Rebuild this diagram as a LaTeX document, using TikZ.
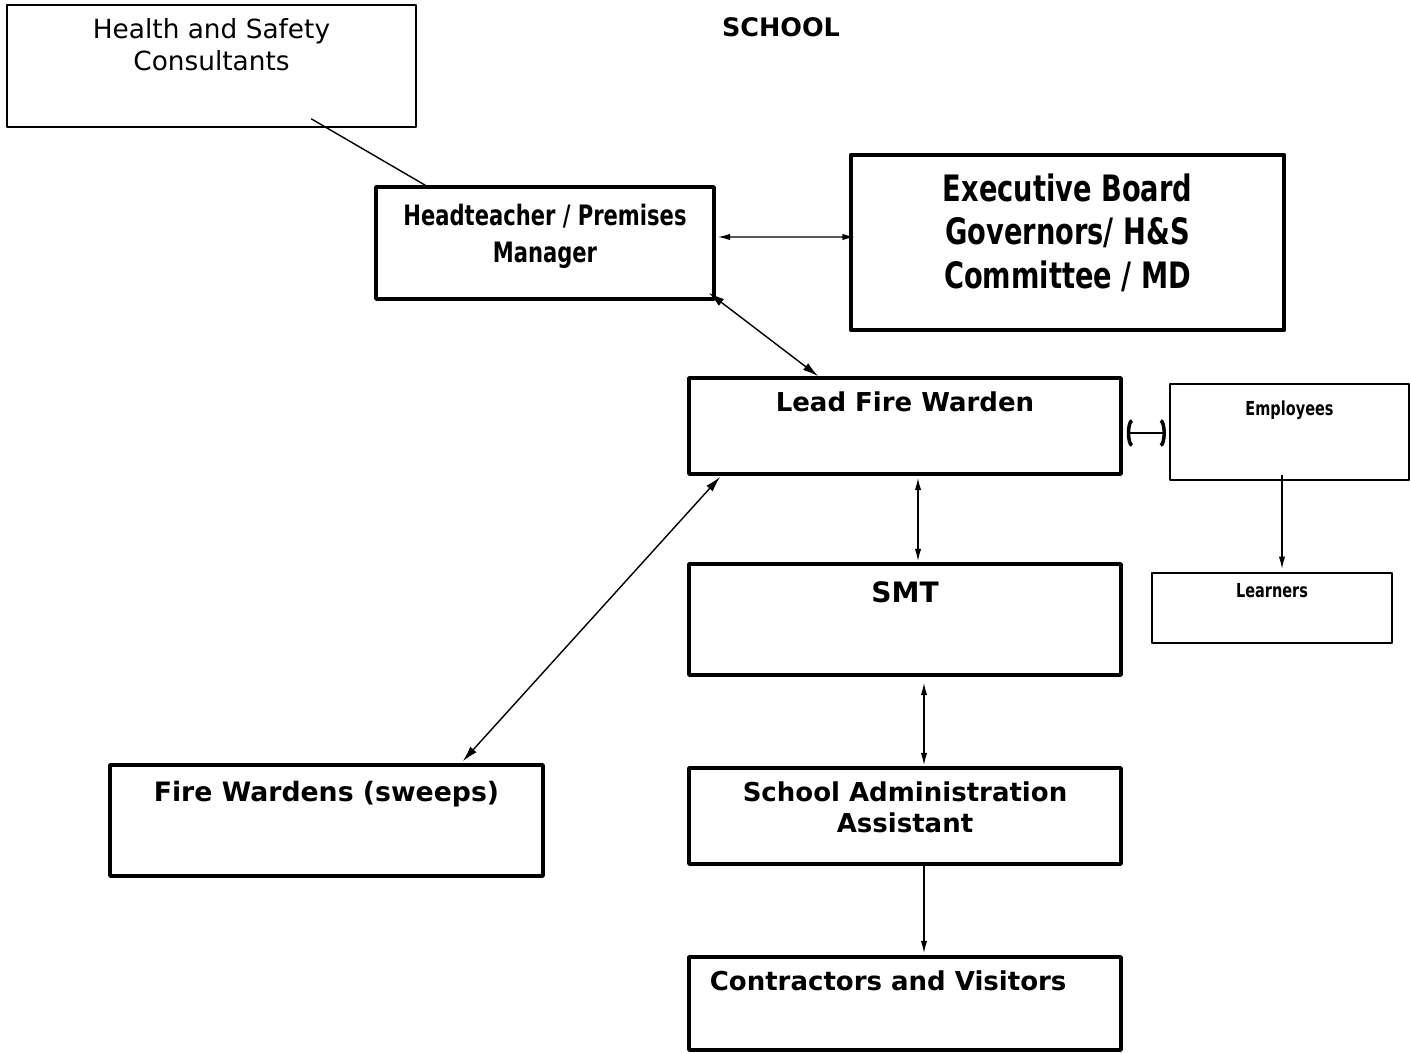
\documentclass[tikz,border=0pt]{standalone}
\usepackage{fontspec}
\setmainfont{DejaVu Sans}
\newfontfamily\narrowfont{DejaVu Sans}[FakeStretch=0.75]
\usetikzlibrary{positioning,fit,arrows.meta}

\begin{document}
\begin{tikzpicture}[x=0.02cm, y=-0.02cm, line join=round, >={Latex[length=7pt,width=3.6pt]},
	orgbox/.style={draw, inner sep=0pt, line width=2pt},
	thinbox/.style={orgbox, line width=0.9pt},
	midbox/.style={orgbox, line width=1.2pt},
	boldtxt/.style={inner sep=0pt, align=center, font=\bfseries\fontsize{14.8}{18}\selectfont},
	narrowtxt/.style={inner sep=0pt, align=center, font=\narrowfont\bfseries\fontsize{16}{21}\selectfont},
	link/.style={line width=0.8pt},
	bigtip/.style={>={Latex[length=9pt,width=4.8pt]}}]
	\useasboundingbox (0,0) rectangle (1410,1053);
	% boxes
	\node[thinbox, fit={(7,5) (416,127)}] (hsc) {};
	\node[orgbox, fit={(376,187) (714,299)}] (hpm) {};
	\node[orgbox, line width=2.6pt, fit={(851,155) (1284,330)}] (eb) {};
	\node[orgbox, fit={(689,378) (1121,474)}] (lfw) {};
	\node[midbox, fit={(1170,384) (1409,480)}] (emp) {};
	\node[midbox, fit={(1152,573) (1392,643)}] (lrn) {};
	\node[orgbox, fit={(689,564) (1121,675)}] (smt) {};
	\node[orgbox, fit={(110,765) (543,876)}] (fw) {};
	\node[orgbox, fit={(689,768) (1121,864)}] (saa) {};
	\node[orgbox, fit={(689,957) (1121,1050)}] (cv) {};
	% texts
	\node[boldtxt, font=\bfseries\fontsize{14.5}{18}\selectfont, anchor=north] (school) at (781,17) {SCHOOL};
	\node[inner sep=0pt, align=center, font=\fontsize{15}{18}\selectfont, below=7.9pt of hsc.north] (hsctxt) {Health and Safety\\Consultants};
	\node[narrowtxt, below=10.8pt of hpm.north] (hpmtxt) {Headteacher / Premises\\Manager};
	\node[narrowtxt, font=\narrowfont\bfseries\fontsize{20.7}{24.7}\selectfont, below=11.9pt of eb.north] (ebtxt) {Executive Board\\Governors/ H\&S\\Committee / MD};
	\node[boldtxt, below=8.8pt of lfw.north] (lfwtxt) {Lead Fire Warden};
	\node[narrowtxt, font=\narrowfont\bfseries\fontsize{11}{13}\selectfont, below=10.2pt of emp.north] (emptxt) {Employees};
	\node[narrowtxt, font=\narrowfont\bfseries\fontsize{11}{13}\selectfont, below=6.2pt of lrn.north] (lrntxt) {Learners};
	\node[boldtxt, font=\bfseries\fontsize{16}{18}\selectfont, below=10.8pt of smt.north] (smttxt) {SMT};
	\node[boldtxt, font=\bfseries\fontsize{15.2}{18}\selectfont, below=10pt of fw.north] (fwtxt) {Fire Wardens (sweeps)};
	\node[boldtxt, below=8.5pt of saa.north] (saatxt) {School Administration\\Assistant};
	\node[boldtxt, below=8.5pt of cv.north, xshift=-9.6pt] (cvtxt) {Contractors and Visitors};
	% connectors
	\draw[link] ([shift={(305,-9)}]hsc.south west) -- ([shift={(51,0)}]hpm.north west);
	\draw[link,<->] ([shift={(2,-6)}]hpm.east) -- ([shift={(6,-5.5)}]eb.west);
	\draw[link,bigtip,<->] ([shift={(-7,-8)}]hpm.south east) -- ([shift={(131,0)}]lfw.north west);
	\draw[link,bigtip,<->] ([shift={(33,1)}]lfw.south west) -- ([shift={(-82,-2)}]fw.north east);
	\draw[link,<->] ([shift={(13,2)}]lfw.south) -- ([shift={(13,-1)}]smt.north);
	\draw[link,{Arc Barb[width=16pt,length=3pt,line width=2pt]}-{Arc Barb[width=16pt,length=3pt,line width=2pt]}] ([shift={(4,7)}]lfw.east) -- ([shift={(-3,1)}]emp.west);
	\draw[link,->] ([shift={(-7.5,-6)}]emp.south) -- ([shift={(10,-3)}]lrn.north);
	\draw[link,<->] ([shift={(19,6)}]smt.south) -- ([shift={(19,-1)}]saa.north);
	\draw[link,->] ([shift={(19,-4)}]saa.south) -- ([shift={(19,-2)}]cv.north);
\end{tikzpicture}
\end{document}
